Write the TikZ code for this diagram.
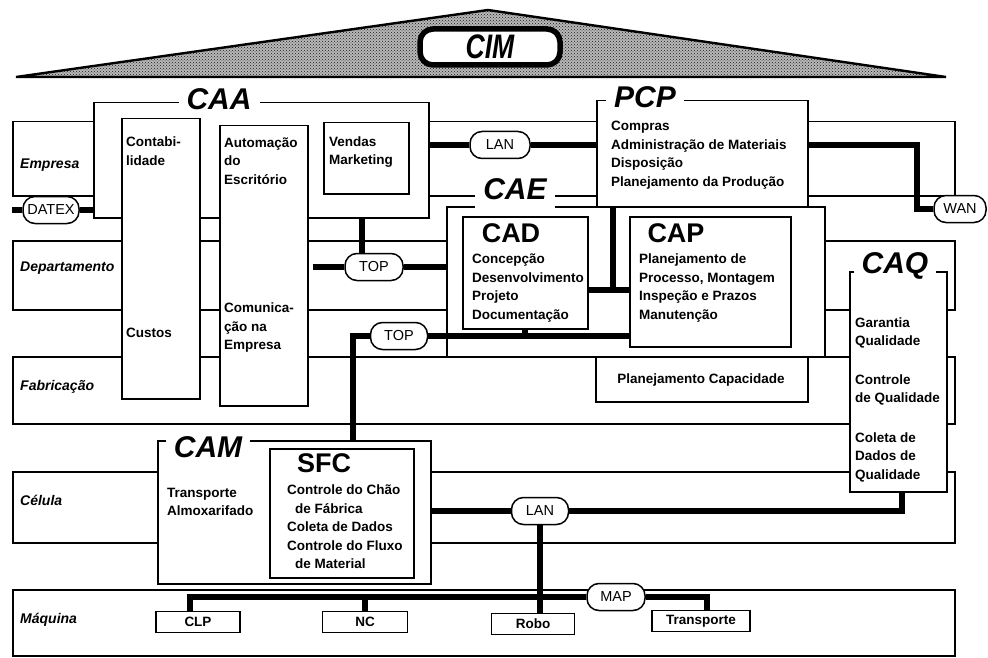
\documentclass[tikz,border=0pt]{standalone}
\usepackage{fontspec}
\setmainfont{Liberation Sans}
\newfontfamily\cimface{Liberation Sans}[FakeStretch=0.78]
\usetikzlibrary{patterns}
\newcommand{\boxtxt}{\bfseries\fontsize{13.5}{18.5}\selectfont}
\newcommand{\layertxt}{\bfseries\itshape\fontsize{14}{17}\selectfont}
\newcommand{\modtxt}{\bfseries\itshape\fontsize{30}{32}\selectfont}
\newcommand{\subtxt}{\bfseries\fontsize{27}{29}\selectfont}
\newcommand{\pilltxt}{\fontsize{14.5}{16}\selectfont}

\begin{document}
\begin{tikzpicture}[x=1pt, y=-1pt,
  frame/.style={draw, line width=1.5pt, fill=white, anchor=north west, inner sep=0pt},
  sz/.style 2 args={minimum width=#1pt, minimum height=#2pt},
  layerlbl/.style={anchor=west, inner sep=0pt, font=\layertxt},
  boxlbl/.style={anchor=west, align=left, inner sep=0pt, font=\boxtxt},
  modtitle/.style={fill=white, inner xsep=8pt, inner ysep=2pt, font=\modtxt},
  subtitle/.style={inner sep=0pt, font=\subtxt},
  pill/.style={draw, line width=1.5pt, fill=white, rounded corners=12pt, minimum height=27pt,
               inner xsep=3pt, inner ysep=0pt, font=\pilltxt},
  machine/.style={draw, line width=1.5pt, fill=white, minimum height=21pt, inner sep=0pt, font=\boxtxt},
  bus/.style={line width=6pt}
]
  \useasboundingbox (0,0) rectangle (988,658);

  \draw[line width=2.4pt, preaction={fill=black!28}, pattern=crosshatch dots, pattern color=black!90]
    (16,77) -- (488,10) -- (946,77) -- cycle;
  \node[draw, line width=5.5pt, rounded corners=13pt, fill=white, minimum width=140pt, minimum height=36pt,
        font=\cimface\bfseries\itshape\fontsize{34}{36}\selectfont] (cim) at (490,47) {CIM};

  \node[frame, sz={942}{74}] (empresa) at (12,121) {};
  \node[frame, sz={942}{69}] (departamento) at (12,240) {};
  \node[frame, sz={942}{67}] (fabricacao) at (12,356) {};
  \node[frame, sz={942}{71}] (celula) at (12,471) {};
  \node[frame, sz={942}{66}] (maquina) at (12,589) {};
  \node[layerlbl] (lempresa) at (20,165) {Empresa};
  \node[layerlbl] (ldepartamento) at (20,268) {Departamento};
  \node[layerlbl] (lfabricacao) at (20,387) {Fabricação};
  \node[layerlbl] (lcelula) at (20,500) {Célula};
  \node[layerlbl] (lmaquina) at (20,620) {Máquina};

  \node[frame, sz={335}{115}] (caa) at (93,102) {};
  \node[frame, sz={78}{280}] (contab) at (121,118) {};
  \node[frame, sz={88}{280}] (automacao) at (219,125) {};
  \node[frame, sz={85}{71}] (vendas) at (323,122) {};
  \node[frame, sz={211}{106}] (pcp) at (596,100) {};
  \node[frame, sz={378}{150}] (cae) at (446,206) {};
  \node[frame, sz={125}{112}] (cad) at (462,216) {};
  \node[frame, sz={161}{130}] (cap) at (629,216) {};
  \node[frame, sz={212}{45}] (plancap) at (595,356) {};
  \node[frame, sz={97}{220}] (caq) at (849,271) {};
  \node[frame, sz={273}{143}] (cam) at (157,440) {};
  \node[frame, sz={144}{129}] (sfc) at (269,448) {};

  \node[modtitle] (caat) at (219,99) {CAA};
  \node[modtitle] (pcpt) at (645,97) {PCP};
  \node[modtitle, minimum height=40pt] (caet) at (515,189) {CAE};
  \node[modtitle] (caqt) at (895,266) {CAQ};
  \node[modtitle] (camt) at (208,447) {CAM};
  \node[subtitle] (cadt) at (511,233) {CAD};
  \node[subtitle] (capt) at (676,233) {CAP};
  \node[subtitle] (sfct) at (324,463) {SFC};

  \node[boxlbl] (tcontab) at (126,151) {Contabi-\\lidade};
  \node[boxlbl] (tcustos) at (126,333) {Custos};
  \node[boxlbl] (tautomacao) at (224,161) {Automação\\do\\Escritório};
  \node[boxlbl] (tcomunica) at (224,328) {Comunica-\\ção na\\Empresa};
  \node[boxlbl] (tvendas) at (329,152) {Vendas\\Marketing};
  \node[boxlbl] (tpcp) at (611,155) {Compras\\Administração de Materiais\\Disposição\\Planejamento da Produção};
  \node[boxlbl] (tcad) at (472,288) {Concepção\\Desenvolvimento\\Projeto\\Documentação};
  \node[boxlbl] (tcap) at (639,288) {Planejamento de\\Processo, Montagem\\Inspeção e Prazos\\Manutenção};
  \node[font=\boxtxt, inner sep=0pt] (tplancap) at (701,380) {Planejamento Capacidade};
  \node[boxlbl] (tgarantia) at (855,333) {Garantia\\Qualidade};
  \node[boxlbl] (tcontrole) at (855,390) {Controle\\de Qualidade};
  \node[boxlbl] (tcoleta) at (855,457) {Coleta de\\Dados de\\Qualidade};
  \node[boxlbl] (tcam) at (167,502) {Transporte\\Almoxarifado};
  \node[boxlbl] (tsfc) at (287,527) {Controle do Chão\\\hspace*{8pt}de Fábrica\\Coleta de Dados\\Controle do Fluxo\\\hspace*{8pt}de Material};

  \node[machine, minimum width=84pt] (clp) at (198,622) {CLP};
  \node[machine, minimum width=85pt] (nc) at (365,622) {NC};
  \node[machine, minimum width=83pt] (robo) at (533,624) {Robo};
  \node[machine, minimum width=98pt] (transp) at (701,621) {Transporte};

  \node[pill, minimum width=56pt] (datex) at (51,210) {DATEX};
  \node[pill, minimum width=60pt] (lana) at (500,145) {LAN};
  \node[pill, minimum width=52pt] (wan) at (960,209) {WAN};
  \node[pill, minimum width=58pt] (topa) at (374,267) {TOP};
  \node[pill, minimum width=57pt] (topb) at (399,336) {TOP};
  \node[pill, minimum width=57pt] (lanb) at (540,511) {LAN};
  \node[pill, minimum width=58pt] (map) at (616,597) {MAP};

  \coordinate (datexend) at (12,210);
  \coordinate (wanbend) at (917,145);
  \coordinate (caejoin) at (613,290);
  \coordinate (camdrop) at (353,336);
  \coordinate (caqdrop) at (902,511);
  \coordinate (mapleft) at (190,597);
  \coordinate (mapright) at (707,597);

  \draw[bus] (datexend) -- (datex.west);
  \draw[bus] (datex.east) -- (caa.west |- datex);
  \draw[bus] (caa.east |- lana) -- (lana.west);
  \draw[bus] (lana.east) -- (pcp.west |- lana);
  \draw[bus] (pcp.east |- wanbend) -- (wanbend) -- (wanbend |- wan) -- (wan.west);
  \draw[bus] ([xshift=-12pt]topa.north |- caa.south) -- ([xshift=-12pt]topa.north);
  \draw[bus] ([xshift=4pt]automacao.east |- topa) -- (topa.west);
  \draw[bus] (topa.east) -- (cae.west |- topa);
  \draw[bus] (pcp.south -| caejoin) -- (caejoin);
  \draw[bus] (cad.east |- caejoin) -- (cap.west |- caejoin);
  \draw[bus] (topb.east) -- (cap.west |- topb);
  \draw[bus] (cad.south) -- (cad.south |- topb);
  \draw[bus] (topb.west) -- (camdrop) -- (camdrop |- cam.north);
  \draw[bus] (cam.east |- lanb) -- (lanb.west);
  \draw[bus] (lanb.east) -- (caqdrop) -- (caqdrop |- caq.south);
  \draw[bus] (lanb.south) -- (lanb.south |- robo.north);
  \draw[bus] (mapleft |- clp.north) -- (mapleft) -- (map.west |- mapleft);
  \draw[bus] (map.east) -- (mapright) -- (mapright |- transp.north);
  \draw[bus] (nc.north) -- (nc.north |- mapleft);
\end{tikzpicture}
\end{document}
